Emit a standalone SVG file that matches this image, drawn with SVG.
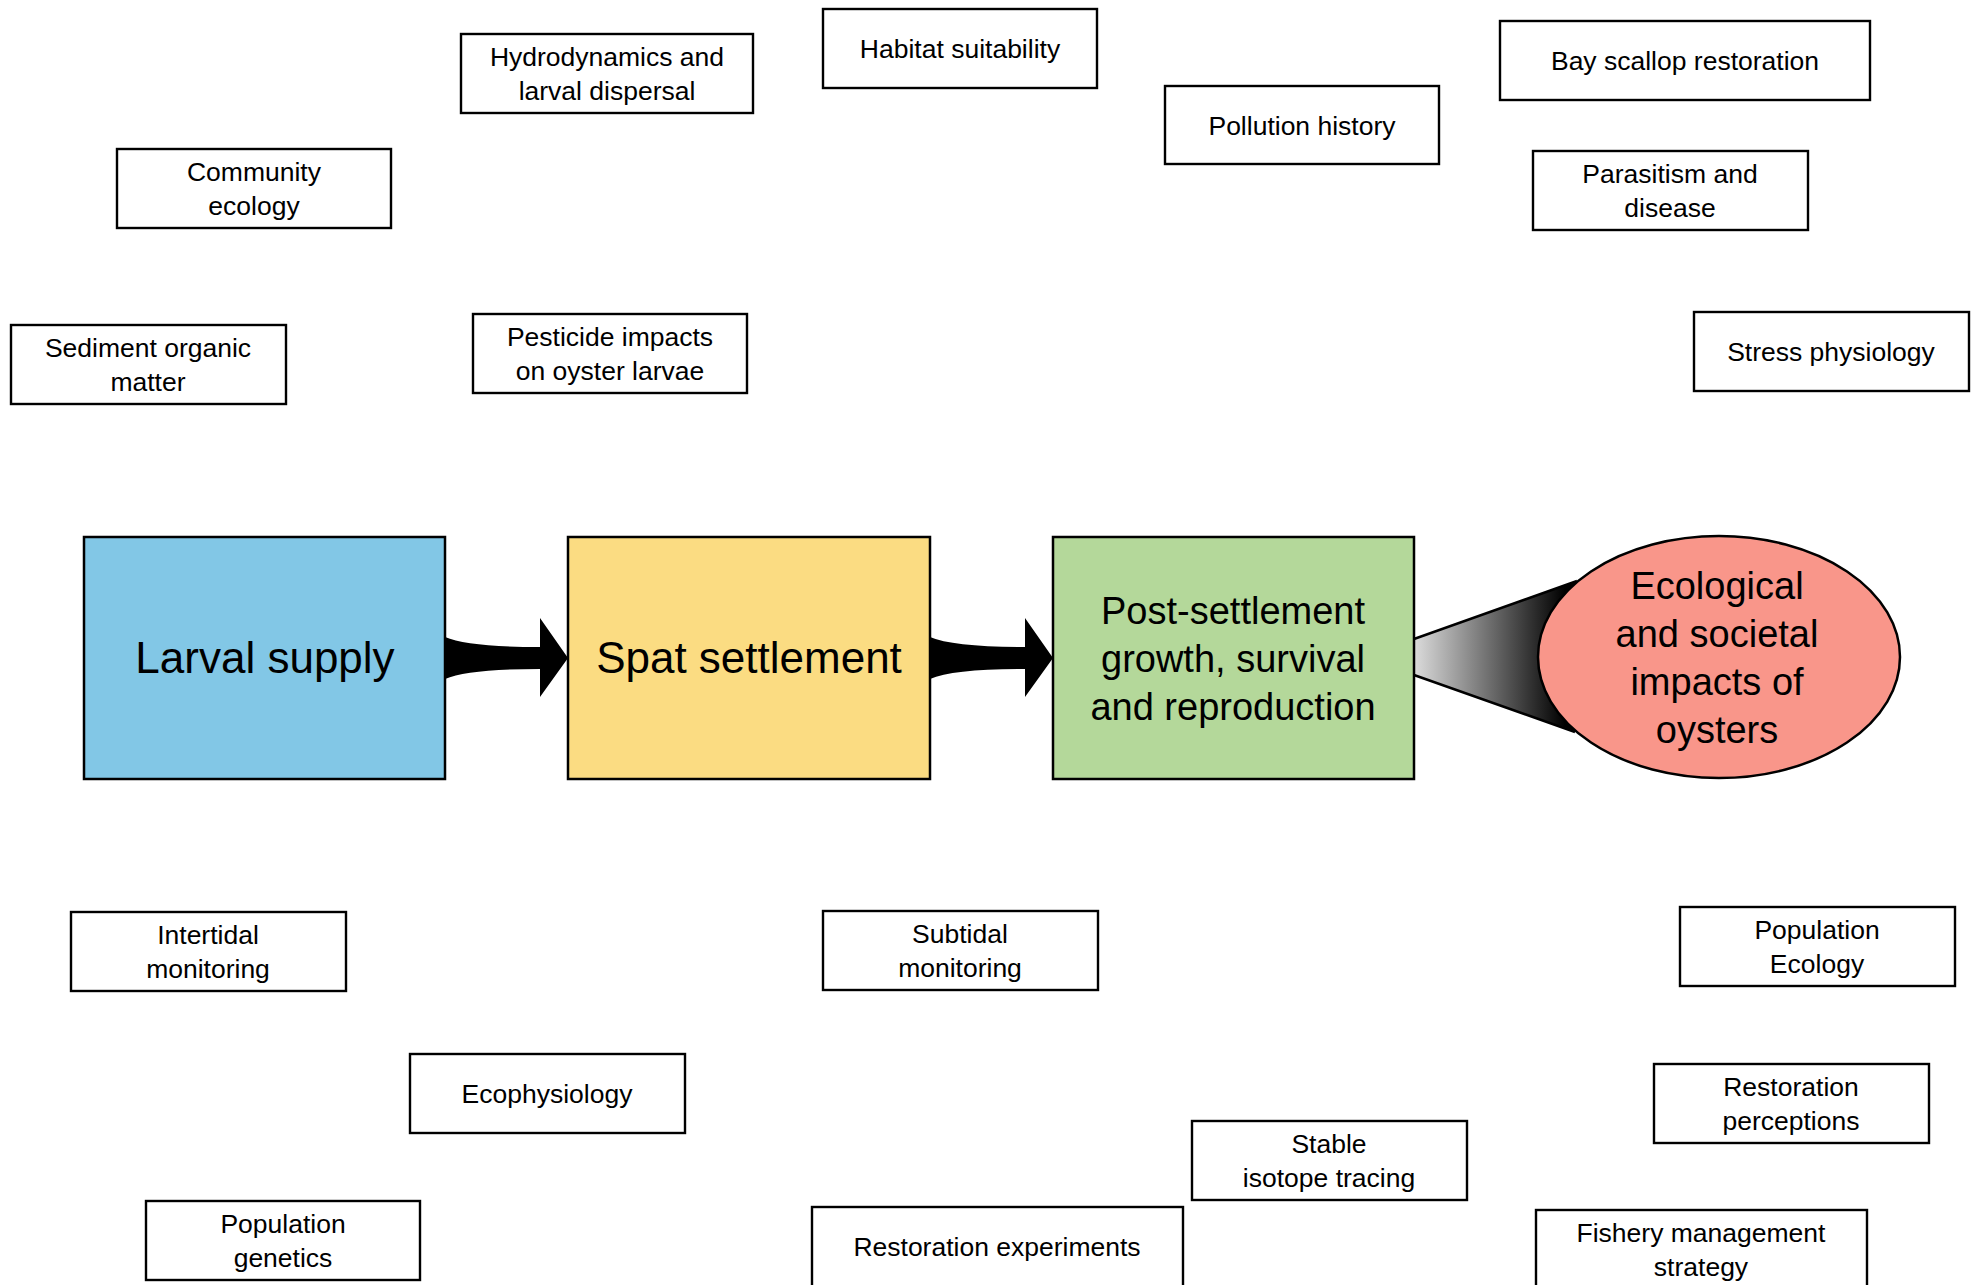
<svg xmlns="http://www.w3.org/2000/svg" width="1978" height="1285" viewBox="0 0 1978 1285">
<style>
.box{fill:#fff;stroke:#000;stroke-width:2.4}
.big{stroke:#000;stroke-width:2.5}
.t{font-family:"Liberation Sans",Arial,sans-serif;font-size:26.5px;fill:#000;text-anchor:middle}
.tb{font-family:"Liberation Sans",Arial,sans-serif;font-size:44px;fill:#000;text-anchor:middle}
.tm{font-family:"Liberation Sans",Arial,sans-serif;font-size:38px;fill:#000;text-anchor:middle}
</style>
<defs>
<linearGradient id="wg" x1="1414" y1="0" x2="1565" y2="0" gradientUnits="userSpaceOnUse">
<stop offset="0" stop-color="#dcdcdc"/>
<stop offset="1" stop-color="#000"/>
</linearGradient>
</defs>
<rect width="1978" height="1285" fill="#fff"/>

<g id="connectors">
<path d="M445,637 Q468,647 540,647 L540,618 L568,658 L540,697 L540,669 Q468,669 445,679 Z" fill="#000"/>
<path d="M930,637 Q953,647 1025,647 L1025,618 L1053,658 L1025,697 L1025,669 Q953,669 930,679 Z" fill="#000"/>
<path d="M1414,639 L1577,581 L1577,732 L1414,675 Z" fill="url(#wg)"/>
<path d="M1414,639 L1577,581 M1414,675 L1575,732" stroke="#000" stroke-width="2.5" fill="none"/>
</g>

<g id="larval-supply">
<rect class="big" x="84" y="537" width="361" height="242" fill="#82C7E6"/>
<text class="tb" x="265" y="673">Larval supply</text>
</g>
<g id="spat-settlement">
<rect class="big" x="568" y="537" width="362" height="242" fill="#FBDC82"/>
<text class="tb" x="749" y="673">Spat settlement</text>
</g>
<g id="post-settlement">
<rect class="big" x="1053" y="537" width="361" height="242" fill="#B4D89A"/>
<text class="tm" x="1233" y="624">Post-settlement</text>
<text class="tm" x="1233" y="672">growth, survival</text>
<text class="tm" x="1233" y="720">and reproduction</text>
</g>
<g id="impacts">
<ellipse class="big" cx="1719" cy="657" rx="181" ry="121" fill="#F9968A"/>
<text class="tm" x="1717" y="599">Ecological</text>
<text class="tm" x="1717" y="647">and societal</text>
<text class="tm" x="1717" y="695">impacts of</text>
<text class="tm" x="1717" y="743">oysters</text>
</g>

<g id="hydrodynamics">
<rect class="box" x="461" y="34" width="292" height="79"/>
<text class="t" x="607" y="66">Hydrodynamics and</text>
<text class="t" x="607" y="100">larval dispersal</text>
</g>
<g id="habitat">
<rect class="box" x="823" y="9" width="274" height="79"/>
<text class="t" x="960" y="58">Habitat suitability</text>
</g>
<g id="pollution">
<rect class="box" x="1165" y="86" width="274" height="78"/>
<text class="t" x="1302" y="135">Pollution history</text>
</g>
<g id="bay-scallop">
<rect class="box" x="1500" y="21" width="370" height="79"/>
<text class="t" x="1685" y="70">Bay scallop restoration</text>
</g>
<g id="parasitism">
<rect class="box" x="1533" y="151" width="275" height="79"/>
<text class="t" x="1670" y="183">Parasitism and</text>
<text class="t" x="1670" y="217">disease</text>
</g>
<g id="stress">
<rect class="box" x="1694" y="312" width="275" height="79"/>
<text class="t" x="1831" y="361">Stress physiology</text>
</g>
<g id="community">
<rect class="box" x="117" y="149" width="274" height="79"/>
<text class="t" x="254" y="181">Community</text>
<text class="t" x="254" y="215">ecology</text>
</g>
<g id="sediment">
<rect class="box" x="11" y="325" width="275" height="79"/>
<text class="t" x="148" y="357">Sediment organic</text>
<text class="t" x="148" y="391">matter</text>
</g>
<g id="pesticide">
<rect class="box" x="473" y="314" width="274" height="79"/>
<text class="t" x="610" y="346">Pesticide impacts</text>
<text class="t" x="610" y="380">on oyster larvae</text>
</g>

<g id="intertidal">
<rect class="box" x="71" y="912" width="275" height="79"/>
<text class="t" x="208" y="944">Intertidal</text>
<text class="t" x="208" y="978">monitoring</text>
</g>
<g id="subtidal">
<rect class="box" x="823" y="911" width="275" height="79"/>
<text class="t" x="960" y="943">Subtidal</text>
<text class="t" x="960" y="977">monitoring</text>
</g>
<g id="ecophysiology">
<rect class="box" x="410" y="1054" width="275" height="79"/>
<text class="t" x="547" y="1103">Ecophysiology</text>
</g>
<g id="population-genetics">
<rect class="box" x="146" y="1201" width="274" height="79"/>
<text class="t" x="283" y="1233">Population</text>
<text class="t" x="283" y="1267">genetics</text>
</g>
<g id="restoration-experiments">
<rect class="box" x="812" y="1207" width="371" height="80"/>
<text class="t" x="997" y="1256">Restoration experiments</text>
</g>
<g id="stable-isotope">
<rect class="box" x="1192" y="1121" width="275" height="79"/>
<text class="t" x="1329" y="1153">Stable</text>
<text class="t" x="1329" y="1187">isotope tracing</text>
</g>
<g id="population-ecology">
<rect class="box" x="1680" y="907" width="275" height="79"/>
<text class="t" x="1817" y="939">Population</text>
<text class="t" x="1817" y="973">Ecology</text>
</g>
<g id="restoration-perceptions">
<rect class="box" x="1654" y="1064" width="275" height="79"/>
<text class="t" x="1791" y="1096">Restoration</text>
<text class="t" x="1791" y="1130">perceptions</text>
</g>
<g id="fishery">
<rect class="box" x="1536" y="1210" width="331" height="80"/>
<text class="t" x="1701" y="1242">Fishery management</text>
<text class="t" x="1701" y="1276">strategy</text>
</g>
</svg>
